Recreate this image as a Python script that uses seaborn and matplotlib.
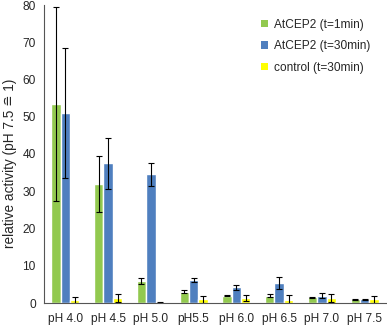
import numpy as np
import pandas as pd
import matplotlib
matplotlib.use("Agg")
import matplotlib.pyplot as plt
import seaborn as sns
from matplotlib.patches import Patch

categories = ["pH 4.0", "pH 4.5", "pH 5.0", "pH5.5", "pH 6.0", "pH 6.5", "pH 7.0", "pH 7.5"]
series = ["AtCEP2 (t=1min)", "AtCEP2 (t=30min)", "control (t=30min)"]

green_vals = [53.5, 32.0, 6.0, 3.0, 2.0, 2.0, 1.5, 1.0]
green_err = [26.0, 7.5, 0.8, 0.4, 0.2, 0.5, 0.2, 0.1]
blue_vals = [51.0, 37.5, 34.5, 6.2, 4.2, 5.3, 2.0, 1.0]
blue_err = [17.5, 6.8, 3.0, 0.6, 0.6, 1.6, 0.6, 0.2]
yellow_vals = [0.9, 1.4, 0.1, 1.0, 1.4, 0.9, 1.4, 1.0]
yellow_err = [0.8, 1.0, 0.3, 1.0, 0.8, 1.2, 1.0, 1.0]

colors = ["#92c94f", "#4f7fbf", "#ffff00"]

df = pd.DataFrame({
    "pH": categories * 3,
    "series": [s for s in series for _ in categories],
    "value": green_vals + blue_vals + yellow_vals,
    "err": green_err + blue_err + yellow_err,
})

sns.set_style("white")
plt.rcParams["font.family"] = ["Liberation Sans", "DejaVu Sans"]

fig = plt.figure(figsize=(3.87, 3.25), dpi=100)
ax = fig.add_axes([44 / 387, 22 / 325, 342 / 387, 298 / 325])

sns.barplot(data=df, x="pH", y="value", hue="series", palette=colors,
            width=0.66, gap=0, errorbar=None, ax=ax, legend=False, saturation=1)

# error bars on top of each bar
for cont, s in zip(ax.containers, series):
    sub = df[df["series"] == s]
    xs = [p.get_x() + p.get_width() / 2 for p in cont.patches]
    ax.errorbar(xs, sub["value"], yerr=sub["err"], fmt="none",
                ecolor="black", elinewidth=0.8, capsize=2.5, capthick=0.8)

ax.set_xlim(-0.5, len(categories) - 0.5)
ax.set_ylim(0, 80)
ax.set_yticks(range(0, 81, 10))
ax.set_xlabel("")
ax.set_ylabel("relative activity (pH 7.5 \u2258 1)", fontsize=9.8)
ax.yaxis.set_label_coords(-0.078, 0.47)

ax.set_xticks(np.arange(len(categories)))
ax.set_xticklabels(categories)
ax.set_xticks(np.arange(len(categories) + 1) - 0.5, minor=True)
ax.tick_params(axis="x", which="major", length=0, pad=7, labelsize=8.6)
ax.tick_params(axis="x", which="minor", length=4, width=0.8, color="#555555", direction="out")
ax.tick_params(axis="y", length=4, width=0.8, color="#555555", direction="out", labelsize=8.6, pad=2)

for side in ["top", "right"]:
    ax.spines[side].set_visible(False)
for side in ["left", "bottom"]:
    ax.spines[side].set_color("#555555")
    ax.spines[side].set_linewidth(0.8)

handles = [Patch(facecolor=c, edgecolor="none") for c in colors]
fig.legend(handles, series, loc="upper left", bbox_to_anchor=(250 / 387, 1 - 8 / 325),
           frameon=False, fontsize=8.6, handlelength=0.6, handleheight=0.6,
           handletextpad=0.5, labelspacing=0.8)

fig.savefig("out.png", dpi=100)
